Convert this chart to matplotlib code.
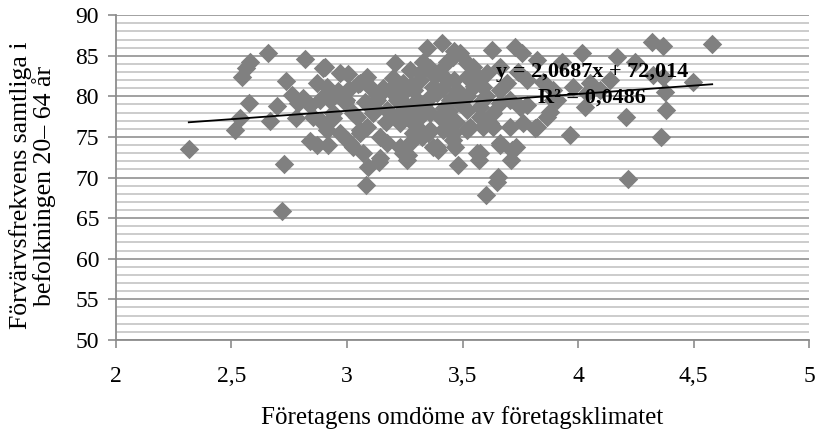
import matplotlib
matplotlib.use("Agg")
import matplotlib.pyplot as plt
import matplotlib.ticker as ticker
import numpy as np

plt.rcParams["font.family"] = ["Liberation Serif", "DejaVu Serif"]

# omdöme (x) och förvärvsfrekvens (y)
omdome = [2.316, 2.515, 2.537, 2.576, 2.545, 2.563, 2.580, 2.658, 2.667, 2.697,
          2.736, 2.727, 2.719, 2.818, 2.762, 2.788, 2.779, 2.810, 2.840, 2.883,
          2.840, 2.870, 2.896, 2.913, 2.853, 2.887, 2.926, 2.939, 2.918, 2.870,
          2.970, 3.004, 2.996, 2.970, 3.026, 3.000, 3.069, 3.056, 3.087, 3.100,
          3.078, 3.043, 3.087, 3.091, 3.139, 3.082, 3.208, 3.186, 3.173, 3.216,
          3.242, 3.273, 3.303, 3.260, 3.286, 3.229, 3.264, 3.325, 3.346, 3.411,
          3.463, 3.433, 3.359, 3.390, 3.463, 3.489, 3.446, 3.519, 3.567, 3.628,
          3.394, 3.481, 3.468, 3.576, 3.650, 3.602, 3.532, 3.589, 3.351, 3.372,
          3.489, 3.727, 3.758, 3.823, 4.017, 4.169, 4.247, 4.320, 4.368, 4.580,
          4.498, 4.377, 4.381, 4.208, 4.359, 3.965, 4.216, 3.662, 3.714, 3.732,
          3.814, 3.762, 3.879, 3.909, 3.931, 3.978, 4.039, 4.052, 4.095, 4.139,
          4.325, 4.368, 3.848, 3.740, 3.662, 3.606, 3.545, 3.662, 3.589, 3.706,
          3.779, 3.519, 3.576, 3.446, 3.372, 3.316, 3.286, 3.359, 3.459, 3.519,
          3.632, 4.030, 2.905, 3.056, 2.913, 2.991, 3.156, 3.316, 3.416, 3.130,
          3.242, 3.359, 2.939, 3.026, 3.113, 3.216, 3.316, 3.403, 2.913, 3.056,
          3.013, 3.143, 3.173, 3.242, 3.273, 3.390, 3.143, 3.229, 3.416, 3.459,
          3.433, 3.519, 3.589, 3.693, 3.779, 3.892, 3.489, 3.576, 3.662, 3.749,
          3.446, 3.619, 3.706, 3.823, 3.459, 3.563, 3.662, 3.654, 3.866, 3.892,
          3.260, 3.571, 3.710, 3.200, 3.135, 3.220, 3.290, 3.330, 3.480, 3.520,
          3.420, 3.550, 3.630, 3.170, 3.050, 3.010, 2.960, 3.380, 3.300, 3.250,
          3.190, 3.240, 3.360, 3.440, 3.400, 3.120, 3.330, 3.280, 3.470, 3.600]
forvarv = [73.5, 75.8, 77.3, 79.2, 82.4, 83.5, 84.2, 85.4, 77.0, 78.8,
           81.9, 71.7, 65.9, 84.6, 80.2, 79.2, 77.3, 79.8, 78.9, 79.5,
           74.5, 81.6, 83.5, 81.1, 77.4, 77.0, 79.5, 77.9, 74.0, 74.0,
           82.9, 82.7, 79.5, 75.5, 73.8, 74.6, 73.0, 75.5, 82.4, 81.1,
           79.3, 77.4, 76.2, 71.3, 71.9, 69.1, 84.1, 80.8, 78.3, 79.5,
           81.6, 83.2, 79.5, 77.4, 75.5, 73.8, 72.8, 75.0, 85.9, 86.6,
           85.6, 84.2, 83.5, 80.4, 82.0, 79.5, 77.4, 84.1, 82.4, 85.7,
           73.4, 71.5, 73.8, 73.0, 69.4, 67.8, 76.2, 76.2, 75.5, 73.8,
           85.4, 86.1, 85.4, 84.5, 85.3, 84.8, 84.2, 86.7, 86.2, 86.4,
           81.8, 80.5, 78.3, 77.4, 75.0, 75.2, 69.8, 74.0, 73.4, 73.8,
           76.1, 76.7, 78.1, 79.5, 84.2, 81.1, 80.4, 81.6, 80.8, 82.0,
           82.6, 82.4, 81.8, 83.0, 83.6, 82.9, 83.6, 80.8, 79.5, 79.5,
           78.9, 78.3, 77.4, 79.5, 81.1, 82.9, 78.3, 75.8, 75.5, 75.8,
           76.2, 78.7, 83.6, 81.6, 80.4, 79.3, 81.0, 82.0, 81.0, 79.5,
           79.3, 79.9, 77.3, 77.9, 77.9, 77.4, 77.4, 77.4, 75.8, 75.8,
           74.2, 75.0, 74.2, 73.0, 74.2, 73.8, 72.4, 76.7, 75.8, 84.8,
           82.0, 82.4, 81.1, 81.6, 82.0, 80.8, 79.2, 78.7, 79.2, 78.7,
           76.7, 76.7, 76.2, 76.2, 74.6, 73.0, 74.2, 70.1, 77.4, 79.5,
           72.2, 72.2, 72.2, 82.3, 80.0, 81.0, 80.8, 78.9, 80.6, 80.1,
           78.6, 81.3, 78.0, 76.8, 81.5, 80.9, 80.6, 82.5, 76.3, 78.5,
           77.8, 80.3, 78.0, 78.2, 83.0, 78.4, 84.2, 81.4, 76.9, 80.0]

lutning = 2.0687
konstant = 72.014
r2 = 0.0486

x_ticks = [2, 2.5, 3, 3.5, 4, 4.5, 5]

fig = plt.figure(figsize=(8.15, 4.33), dpi=100)
ax = fig.add_axes([0.142, 0.215, 0.851, 0.75])

ax.set_xlim(2, 5)
ax.set_ylim(50, 90)

ax.yaxis.set_major_locator(ticker.MultipleLocator(5))
ax.yaxis.set_minor_locator(ticker.MultipleLocator(1))
ax.set_xticks(x_ticks)
ax.set_xticklabels([f"{t:g}".replace(".", ",") for t in x_ticks])

ax.grid(axis="y", which="minor", color="#c8c8c8", lw=1.3, zorder=0)
ax.grid(axis="y", which="major", color="#9a9a9a", lw=1.3, zorder=0)
ax.set_axisbelow(True)

for s in ["top", "right"]:
    ax.spines[s].set_visible(False)
ax.spines["left"].set_color("#8c8c8c")
ax.spines["bottom"].set_color("#8c8c8c")
ax.spines["left"].set_linewidth(1.3)
ax.spines["bottom"].set_linewidth(1.3)

ax.tick_params(which="major", length=6, width=1.2, color="#8c8c8c", labelsize=17)
ax.tick_params(which="minor", length=0)
ax.tick_params(axis="x", pad=13)
ax.tick_params(axis="y", pad=6)

ax.scatter(omdome, forvarv, marker="D", s=98, color="#808080", linewidths=0, zorder=3)

xs = np.array([min(omdome), max(omdome)])
ax.plot(xs, lutning * xs + konstant, color="black", lw=1.3, zorder=4)

eq = f"y = {lutning:.4f}x + {konstant:.3f}".replace(".", ",")
rr = f"R² = {r2:.4f}".replace(".", ",")
ax.text(0.687, 0.825, eq, transform=ax.transAxes, ha="center", va="center",
        fontsize=16, fontweight="bold", zorder=5)
ax.text(0.687, 0.745, rr, transform=ax.transAxes, ha="center", va="center",
        fontsize=16, fontweight="bold", zorder=5)

ax.set_xlabel("Företagens omdöme av företagsklimatet", fontsize=18)
ax.xaxis.set_label_coords(0.5, -0.205)
ax.set_ylabel("Förvärvsfrekvens samtliga i\nbefolkningen 20– 64 år", fontsize=18.5,
              linespacing=1.0)
ax.yaxis.set_label_coords(-0.086, 0.475)

fig.savefig("out.png", dpi=100)
